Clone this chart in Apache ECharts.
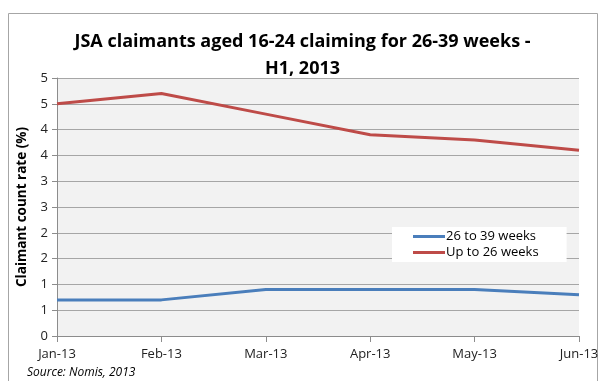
<!DOCTYPE html>
<html>
<head>
<meta charset="utf-8">
<script src="https://cdn.jsdelivr.net/npm/echarts@6/dist/echarts.min.js"></script>
<style>
  html, body { margin: 0; padding: 0; background: #ffffff; }
  #chart { width: 605px; height: 381px; }
</style>
</head>
<body>
<div id="chart"></div>
<script>
// Monthly claimant count rates, first half of 2013
const months = ['Jan-13', 'Feb-13', 'Mar-13', 'Apr-13', 'May-13', 'Jun-13'];
const weeks26to39 = [0.7, 0.7, 0.9, 0.9, 0.9, 0.8];
const upTo26Weeks = [4.5, 4.7, 4.3, 3.9, 3.8, 3.6];
// Axis labels are shown rounded to whole numbers at each 0.5 step
const yTickValues = [0, 0.5, 1, 1.5, 2, 2.5, 3, 3.5, 4, 4.5, 5];
const yTickLabels = ['0', '1', '1', '2', '2', '3', '3', '4', '4', '5', '5'];

const FONT = 'Open Sans';
const chart = echarts.init(document.getElementById('chart'));

chart.setOption({
  backgroundColor: '#ffffff',
  animation: false,
  title: {
    text: 'JSA claimants aged 16-24 claiming for 26-39 weeks -\nH1, 2013',
    left: 'center',
    top: 23,
    textStyle: {
      fontFamily: FONT,
      fontSize: 18,
      fontWeight: 'bold',
      color: '#000000',
      lineHeight: 27
    }
  },
  graphic: [
    {
      type: 'rect',
      shape: { x: 8.5, y: 13.5, width: 589, height: 400 },
      style: { fill: 'none', stroke: '#a6a6a6', lineWidth: 1 },
      silent: true
    },
    {
      type: 'text',
      left: 27,
      top: 367,
      style: {
        text: 'Source: Nomis, 2013',
        font: 'italic 12px "Open Sans"',
        fill: '#000000'
      }
    }
  ],
  legend: {
    orient: 'vertical',
    left: 392,
    top: 227,
    backgroundColor: '#ffffff',
    padding: [3, 28, 3, 21],
    itemGap: 3,
    itemWidth: 32,
    itemHeight: 3,
    icon: 'rect',
    textStyle: { fontFamily: FONT, fontSize: 13, color: '#000000', padding: [0, 0, 0, -4] },
    data: ['26 to 39 weeks', 'Up to 26 weeks']
  },
  grid: {
    left: 57,
    right: 26,
    top: 78,
    bottom: 45,
    show: true,
    backgroundColor: '#f2f2f2',
    borderWidth: 0
  },
  xAxis: {
    type: 'category',
    data: months,
    boundaryGap: false,
    axisLine: { lineStyle: { color: '#8c8c8c', width: 1 } },
    axisTick: { show: true, alignWithLabel: true, length: 6, lineStyle: { color: '#8c8c8c' } },
    axisLabel: { fontFamily: FONT, fontSize: 13, color: '#222222', margin: 12 },
    splitLine: { show: false }
  },
  yAxis: {
    type: 'value',
    min: 0,
    max: 5,
    interval: 0.5,
    name: 'Claimant count rate (%)',
    nameLocation: 'middle',
    nameGap: 28,
    nameTextStyle: { fontFamily: FONT, fontSize: 13.5, fontWeight: 'bold', color: '#000000' },
    axisLine: { show: true, lineStyle: { color: '#8c8c8c', width: 1 } },
    axisTick: { show: true, length: 5, lineStyle: { color: '#8c8c8c' } },
    axisLabel: {
      fontFamily: FONT,
      fontSize: 13,
      color: '#222222',
      margin: 9,
      formatter: function (v) {
        const i = yTickValues.findIndex(t => Math.abs(t - v) < 1e-6);
        return i >= 0 ? yTickLabels[i] : '';
      }
    },
    splitLine: { show: true, lineStyle: { color: '#a6a6a6', width: 1 } }
  },
  series: [
    {
      name: '26 to 39 weeks',
      type: 'line',
      data: weeks26to39,
      symbol: 'none',
      lineStyle: { color: '#4a7ebb', width: 3 },
      itemStyle: { color: '#4a7ebb' }
    },
    {
      name: 'Up to 26 weeks',
      type: 'line',
      data: upTo26Weeks,
      symbol: 'none',
      lineStyle: { color: '#be4b48', width: 3 },
      itemStyle: { color: '#be4b48' }
    }
  ]
});
</script>
</body>
</html>
